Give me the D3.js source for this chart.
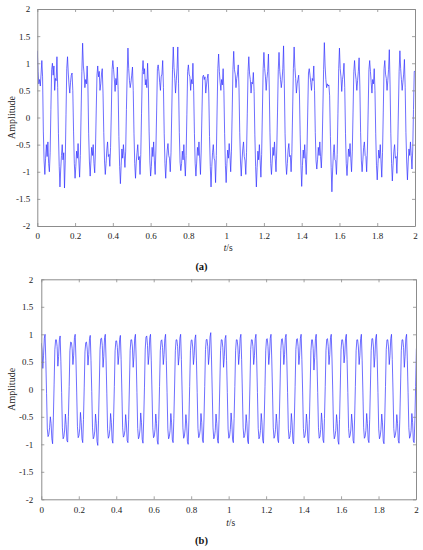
<!DOCTYPE html>
<html>
<head>
<meta charset="utf-8">
<script src="https://cdn.jsdelivr.net/npm/d3@7"></script>
<style>
  html, body { margin: 0; padding: 0; background: #fff; }
  svg { display: block; }
  svg text { font-family: "Liberation Serif", "Times New Roman", serif; }
</style>
</head>
<body>
<svg id="chart" width="423" height="550"></svg>
<script>
// ---------------- DATA ----------------
const xTickValues = [0, 0.2, 0.4, 0.6, 0.8, 1, 1.2, 1.4, 1.6, 1.8, 2];
const xTickLabels = ["0", "0.2", "0.4", "0.6", "0.8", "1", "1.2", "1.4", "1.6", "1.8", "2"];
const yTickValues = [-2, -1.5, -1, -0.5, 0, 0.5, 1, 1.5, 2];
const yTickLabels = ["-2", "-1.5", "-1", "-0.5", "0", "0.5", "1", "1.5", "2"];
const panelLabels = ["(a)", "(b)"];
const xAxisTitle = "t/s";
const yAxisTitle = "Amplitude";

// sampling intervals (s) of the two recorded signals
const sampleIntervalA = 0.004;
const sampleIntervalB = 0.00402;

// (a) measured signal, one row per ~0.08 s cycle
const signalA = [
  1.23, 0.85, 0.62, 0.7, 0.58, 0.8, 1.05, 0.75, -0.25, -0.8, -1.05, -0.75, -0.5, -0.72, -0.45, -0.85, -1.0, -0.65, 0.15, 0.88,
  1.0, 0.78, 0.95, 0.5, 0.72, 0.68, 1.12, 0.55, -0.3, -0.9, -1.28, -0.95, -0.7, -0.5, -0.78, -0.65, -1.3, -0.8, 0.05, 0.9,
  1.12, 0.82, 0.6, 0.45, 0.65, 0.78, 0.82, 0.5, -0.25, -0.85, -1.12, -0.9, -0.62, -0.75, -0.48, -0.8, -1.1, -0.7, 0.1, 0.85,
  1.37, 0.95, 0.8, 0.55, 0.7, 0.62, 0.95, 0.58, -0.3, -0.82, -1.08, -0.8, -0.55, -0.7, -0.5, -0.85, -1.02, -0.6, 0.12, 0.78,
  0.95, 0.75, 0.85, 0.5, 0.62, 0.8, 0.9, 0.45, -0.28, -0.8, -1.05, -0.85, -0.6, -0.45, -0.72, -0.68, -0.9, -0.55, 0.1, 0.88,
  1.05, 0.88, 0.7, 0.48, 0.72, 0.6, 0.93, 0.52, -0.35, -0.9, -1.22, -0.88, -0.58, -0.75, -0.5, -0.7, -0.92, -0.62, 0.15, 0.82,
  1.28, 0.9, 0.68, 0.55, 0.65, 0.78, 0.93, 0.5, -0.3, -0.85, -1.12, -0.82, -0.65, -0.5, -0.78, -0.72, -1.05, -0.68, 0.08, 0.85,
  1.05, 0.8, 0.9, 0.6, 0.7, 0.55, 1.0, 0.6, -0.25, -0.8, -1.08, -0.9, -0.55, -0.72, -0.45, -0.8, -1.05, -0.6, 0.12, 0.9,
  0.97, 0.85, 0.65, 0.5, 0.75, 0.8, 1.05, 0.55, -0.3, -0.85, -1.12, -0.8, -0.6, -0.48, -0.7, -0.75, -1.0, -0.65, 0.1, 0.88,
  1.3, 0.92, 0.72, 0.45, 0.68, 0.9, 1.3, 0.62, -0.28, -0.82, -0.98, -0.85, -0.62, -0.78, -0.5, -0.82, -1.08, -0.7, 0.05, 0.85,
  0.97, 0.8, 0.75, 0.5, 0.7, 0.62, 1.0, 0.5, -0.3, -0.85, -1.08, -0.82, -0.55, -0.7, -0.45, -0.75, -1.05, -0.6, 0.1, 0.75,
  0.78, 0.7, 0.75, 0.45, 0.6, 0.72, 0.8, 0.45, -0.35, -0.9, -1.28, -0.9, -0.65, -0.5, -0.75, -0.8, -1.2, -0.7, 0.12, 0.9,
  1.17, 0.85, 0.65, 0.5, 0.7, 0.6, 0.9, 0.5, -0.3, -0.88, -1.2, -0.85, -0.6, -0.75, -0.48, -0.7, -1.0, -0.62, 0.1, 0.88,
  1.22, 0.88, 0.8, 0.55, 0.72, 0.8, 0.97, 0.55, -0.28, -0.82, -1.08, -0.8, -0.58, -0.45, -0.72, -0.8, -1.05, -0.65, 0.08, 0.85,
  1.12, 0.8, 0.7, 0.45, 0.65, 0.62, 0.83, 0.48, -0.32, -0.9, -1.28, -0.92, -0.62, -0.78, -0.5, -0.8, -1.1, -0.68, 0.12, 0.9,
  1.2, 0.9, 0.75, 0.5, 0.72, 0.85, 1.17, 0.6, -0.28, -0.85, -1.05, -0.8, -0.55, -0.7, -0.45, -0.75, -1.0, -0.6, 0.1, 0.88,
  1.2, 0.85, 0.7, 0.55, 0.68, 0.9, 1.32, 0.62, -0.3, -0.82, -1.05, -0.85, -0.6, -0.48, -0.72, -0.7, -1.0, -0.65, 0.12, 0.9,
  1.3, 0.92, 0.72, 0.45, 0.62, 0.7, 0.78, 0.45, -0.32, -0.88, -1.27, -0.88, -0.6, -0.75, -0.5, -0.78, -1.05, -0.62, 0.1, 0.82,
  0.9, 0.78, 0.65, 0.5, 0.72, 0.68, 0.95, 0.5, -0.28, -0.8, -0.95, -0.78, -0.55, -0.7, -0.45, -0.72, -0.93, -0.6, 0.12, 0.88,
  1.38, 0.95, 0.7, 0.55, 0.62, 0.58, 0.6, 0.4, -0.35, -0.92, -1.37, -0.95, -0.65, -0.5, -0.78, -0.8, -1.05, -0.68, 0.08, 0.9,
  1.28, 0.9, 0.75, 0.48, 0.7, 0.8, 1.0, 0.55, -0.3, -0.85, -1.07, -0.82, -0.58, -0.72, -0.48, -0.75, -1.0, -0.62, 0.1, 0.85,
  1.05, 0.82, 0.7, 0.5, 0.68, 0.85, 1.1, 0.58, -0.28, -0.8, -1.0, -0.78, -0.55, -0.45, -0.7, -0.72, -1.0, -0.6, 0.12, 0.88,
  1.05, 0.85, 0.65, 0.45, 0.7, 0.62, 0.9, 0.5, -0.3, -0.88, -1.15, -0.85, -0.6, -0.75, -0.5, -0.8, -1.1, -0.65, 0.1, 0.9,
  1.05, 0.8, 0.72, 0.5, 0.68, 0.88, 1.25, 0.6, -0.3, -0.85, -1.17, -0.88, -0.62, -0.5, -0.75, -0.72, -1.03, -0.62, 0.12, 0.85,
  1.23, 0.9, 0.7, 0.5, 0.65, 0.8, 1.07, 0.55, -0.28, -0.82, -1.15, -0.82, -0.58, -0.7, -0.45, -0.7, -0.95, -0.6, 0.15, 0.85,
  0.85
];

// (b) processed signal, one row per ~0.08 s cycle
const signalB = [
  0.84, 0.72, 0.38, 0.62, 0.93, 1.0, 0.52, -0.08, -0.72, -0.86, -0.82, -0.7, -0.5, -0.62, -0.9, -0.99, -0.52, 0.08, 0.72, 0.9,
  0.9, 0.78, 0.42, 0.6, 0.9, 0.97, 0.5, -0.06, -0.7, -0.9, -0.86, -0.74, -0.45, -0.64, -0.93, -0.96, -0.5, 0.05, 0.7, 0.86,
  0.85, 0.74, 0.45, 0.62, 0.94, 1.0, 0.55, -0.05, -0.68, -0.88, -0.84, -0.72, -0.42, -0.6, -0.9, -0.97, -0.55, 0.04, 0.68, 0.85,
  0.86, 0.73, 0.44, 0.63, 0.92, 0.98, 0.52, -0.04, -0.7, -0.9, -0.86, -0.76, -0.45, -0.62, -0.95, -1.02, -0.56, 0.06, 0.72, 0.92,
  0.93, 0.8, 0.4, 0.6, 0.94, 1.0, 0.53, -0.07, -0.72, -0.89, -0.85, -0.73, -0.44, -0.6, -0.92, -0.98, -0.52, 0.05, 0.7, 0.88,
  0.88, 0.76, 0.45, 0.62, 0.91, 0.98, 0.54, -0.05, -0.7, -0.87, -0.84, -0.75, -0.46, -0.63, -0.93, -0.97, -0.55, 0.06, 0.71, 0.9,
  0.9, 0.77, 0.4, 0.6, 0.93, 1.0, 0.55, -0.06, -0.71, -0.9, -0.86, -0.74, -0.43, -0.6, -0.91, -0.98, -0.54, 0.04, 0.73, 0.95,
  0.97, 0.8, 0.45, 0.62, 0.94, 1.0, 0.53, -0.05, -0.7, -0.88, -0.85, -0.73, -0.45, -0.62, -0.94, -1.0, -0.55, 0.05, 0.7, 0.88,
  0.9, 0.76, 0.45, 0.63, 0.92, 1.0, 0.52, -0.06, -0.72, -0.9, -0.86, -0.75, -0.44, -0.61, -0.92, -0.97, -0.53, 0.06, 0.71, 0.9,
  0.9, 0.78, 0.44, 0.6, 0.93, 1.0, 0.54, -0.05, -0.7, -0.89, -0.85, -0.72, -0.46, -0.63, -0.95, -1.0, -0.56, 0.05, 0.7, 0.89,
  0.9, 0.77, 0.45, 0.62, 0.92, 0.99, 0.53, -0.06, -0.71, -0.88, -0.84, -0.74, -0.44, -0.6, -0.92, -0.97, -0.54, 0.05, 0.72, 0.9,
  0.91, 0.78, 0.45, 0.62, 0.95, 1.03, 0.55, -0.05, -0.7, -0.9, -0.86, -0.75, -0.45, -0.62, -0.93, -0.98, -0.55, 0.06, 0.7, 0.9,
  0.9, 0.76, 0.4, 0.6, 0.92, 0.98, 0.52, -0.06, -0.72, -0.89, -0.85, -0.73, -0.43, -0.61, -0.92, -0.97, -0.53, 0.05, 0.71, 0.9,
  0.9, 0.77, 0.45, 0.63, 0.93, 1.0, 0.54, -0.05, -0.7, -0.88, -0.84, -0.74, -0.46, -0.62, -0.94, -0.99, -0.55, 0.06, 0.72, 0.9,
  0.9, 0.78, 0.45, 0.61, 0.92, 1.0, 0.53, -0.06, -0.71, -0.9, -0.86, -0.75, -0.44, -0.6, -0.93, -0.98, -0.54, 0.05, 0.7, 0.91,
  0.92, 0.78, 0.45, 0.62, 0.93, 1.0, 0.55, -0.05, -0.7, -0.89, -0.85, -0.73, -0.45, -0.62, -0.92, -0.97, -0.55, 0.06, 0.71, 0.91,
  0.92, 0.79, 0.45, 0.63, 0.94, 1.0, 0.53, -0.06, -0.72, -0.9, -0.86, -0.75, -0.44, -0.61, -0.94, -0.99, -0.54, 0.05, 0.72, 0.91,
  0.92, 0.78, 0.45, 0.62, 0.93, 1.0, 0.54, -0.05, -0.71, -0.88, -0.85, -0.74, -0.45, -0.62, -0.93, -0.98, -0.55, 0.06, 0.7, 0.9,
  0.9, 0.74, 0.35, 0.58, 0.92, 1.0, 0.53, -0.06, -0.7, -0.89, -0.86, -0.73, -0.43, -0.6, -0.92, -0.97, -0.53, 0.05, 0.71, 0.91,
  0.92, 0.78, 0.45, 0.63, 0.94, 1.0, 0.55, -0.05, -0.72, -0.9, -0.85, -0.75, -0.46, -0.62, -0.94, -1.0, -0.55, 0.06, 0.72, 0.9,
  0.9, 0.79, 0.48, 0.64, 0.93, 1.0, 0.54, -0.06, -0.71, -0.88, -0.84, -0.74, -0.45, -0.61, -0.93, -0.98, -0.54, 0.05, 0.7, 0.9,
  0.9, 0.77, 0.45, 0.62, 0.92, 1.0, 0.53, -0.05, -0.7, -0.89, -0.86, -0.75, -0.44, -0.62, -0.92, -0.97, -0.55, 0.06, 0.71, 0.92,
  0.92, 0.77, 0.4, 0.6, 0.93, 1.0, 0.55, -0.06, -0.72, -0.9, -0.85, -0.73, -0.45, -0.61, -0.94, -0.99, -0.54, 0.05, 0.72, 0.9,
  0.9, 0.77, 0.45, 0.62, 0.92, 1.0, 0.54, -0.05, -0.71, -0.88, -0.84, -0.74, -0.46, -0.62, -0.93, -0.98, -0.55, 0.06, 0.7, 0.9,
  0.9, 0.76, 0.4, 0.6, 0.93, 1.0, 0.53, -0.06, -0.7, -0.89, -0.85, -0.75, -0.44, -0.6, -0.94, -0.97, -0.56, 0.05, 0.72, 0.9
];

// ---------------- DRAWING ----------------
const svg = d3.select("#chart");
const FONT = "Liberation Serif, Times New Roman, serif";
const FRAME = "#8c8c8c";

const panels = [
  { values: signalA, dt: sampleIntervalA, left: 37.3, right: 415, top: 9, bottom: 226, label: panelLabels[0], labelY: 270, titleY: 251, yLabPad: 7, xLabPad: 7 },
  { values: signalB, dt: sampleIntervalB, left: 41.3, right: 416, top: 279.3, bottom: 499.3, label: panelLabels[1], labelY: 543.5, titleY: 526, yLabPad: 8, xLabPad: 7.5 }
];

panels.forEach((p, pi) => {
  const x = d3.scaleLinear().domain([0, 2]).range([p.left, p.right]);
  const y = d3.scaleLinear().domain([-2, 2]).range([p.bottom, p.top]);
  const g = svg.append("g");

  const clipId = "clip" + pi;
  svg.append("clipPath").attr("id", clipId)
    .append("rect").attr("x", p.left).attr("y", p.top)
    .attr("width", p.right - p.left).attr("height", p.bottom - p.top);

  const pts = p.values.map((v, i) => [i * p.dt, v]);
  const line = d3.line().x(d => x(d[0])).y(d => y(d[1]));
  g.append("path")
    .datum(pts)
    .attr("clip-path", `url(#${clipId})`)
    .attr("d", line)
    .attr("fill", "none")
    .attr("stroke", "#3030ff")
    .attr("stroke-width", 0.7)
    .attr("stroke-linejoin", "round");

  const fmtX = (d) => xTickLabels[xTickValues.indexOf(d)];
  const fmtY = (d) => yTickLabels[yTickValues.indexOf(d)];

  const axB = g.append("g").attr("transform", `translate(0,${p.bottom})`)
    .call(d3.axisBottom(x).tickValues(xTickValues).tickFormat(fmtX).tickSize(-3).tickSizeOuter(0).tickPadding(p.xLabPad));
  const axT = g.append("g").attr("transform", `translate(0,${p.top})`)
    .call(d3.axisTop(x).tickValues(xTickValues).tickFormat("").tickSize(-3).tickSizeOuter(0));
  const axL = g.append("g").attr("transform", `translate(${p.left},0)`)
    .call(d3.axisLeft(y).tickValues(yTickValues).tickFormat(fmtY).tickSize(-3).tickSizeOuter(0).tickPadding(p.yLabPad));
  const axR = g.append("g").attr("transform", `translate(${p.right},0)`)
    .call(d3.axisRight(y).tickValues(yTickValues).tickFormat("").tickSize(-3).tickSizeOuter(0));

  [axB, axT, axL, axR].forEach(a => {
    a.attr("font-family", FONT);
    a.select(".domain").attr("stroke", FRAME).attr("stroke-width", 1);
    a.selectAll(".tick line").attr("stroke", FRAME).attr("stroke-width", 0.8);
    a.selectAll("text").attr("font-family", FONT).attr("font-size", 9).attr("fill", "#222");
  });

  // x axis title
  const tx = g.append("text")
    .attr("x", (p.left + p.right) / 2 + 2)
    .attr("y", p.titleY)
    .attr("text-anchor", "middle")
    .attr("font-family", FONT).attr("font-size", 9.5).attr("fill", "#222");
  tx.append("tspan").attr("font-style", "italic").text(xAxisTitle.split("/")[0]);
  tx.append("tspan").text("/" + xAxisTitle.split("/")[1]);

  // y axis title
  g.append("text")
    .attr("transform", `translate(11.5,${(p.top + p.bottom) / 2}) rotate(-90)`)
    .attr("text-anchor", "middle")
    .attr("dominant-baseline", "central")
    .attr("font-family", FONT).attr("font-size", 10).attr("fill", "#222")
    .text(yAxisTitle);

  // panel label
  g.append("text")
    .attr("x", 201.5)
    .attr("y", p.labelY)
    .attr("text-anchor", "middle")
    .attr("font-family", FONT).attr("font-size", 10.5).attr("font-weight", "bold").attr("fill", "#111")
    .text(p.label);
});
</script>
</body>
</html>
